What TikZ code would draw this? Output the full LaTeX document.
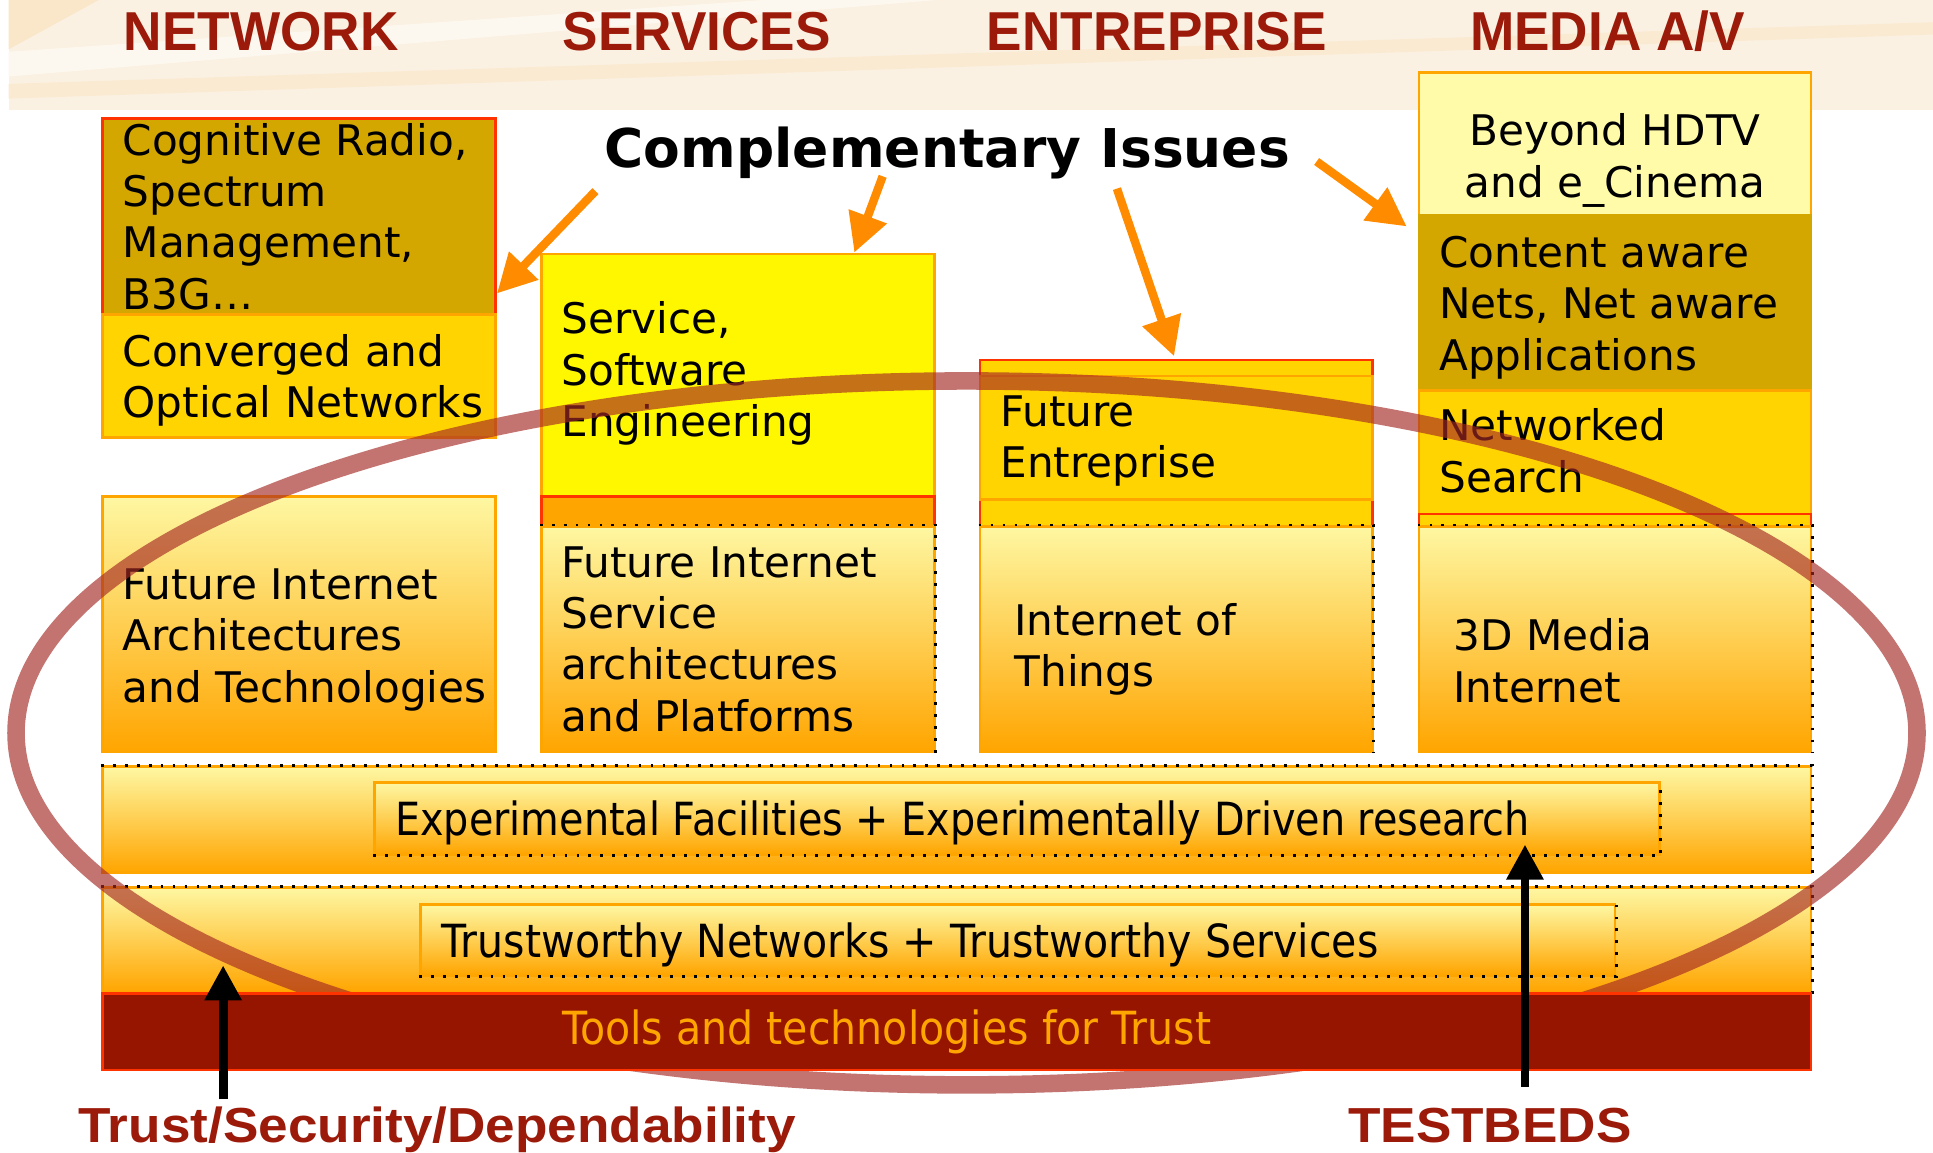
\documentclass[tikz,border=0pt]{standalone}
\usepackage{fontspec}
\setmainfont{DejaVu Sans}
\newfontfamily\boxfont{DejaVu Sans}
\newfontfamily\bandfont[FakeStretch=0.87]{DejaVu Sans}
\newfontfamily\bandfontb[FakeStretch=0.9]{DejaVu Sans}
\newfontfamily\issuefont{DejaVu Sans}
\newfontfamily\headfont[FakeStretch=0.97]{Liberation Sans}
\newfontfamily\footfont[FakeStretch=1.08]{Liberation Sans}
\usetikzlibrary{arrows.meta,positioning,fit}

\definecolor{darkgold}{HTML}{D4A700}
\definecolor{gold}{HTML}{FFD400}
\definecolor{brightyel}{HTML}{FFF700}
\definecolor{paleyel}{HTML}{FFFBA8}
\definecolor{bandor}{HTML}{FFA500}
\definecolor{boxline}{HTML}{FFA500}
\definecolor{redline}{HTML}{FF3300}
\definecolor{toolsred}{HTML}{961500}
\definecolor{headred}{HTML}{9C1A0A}
\definecolor{arrowor}{HTML}{FF8C00}
\definecolor{ellred}{HTML}{A52A24}
\definecolor{gradtop}{HTML}{FEF7A2}
\definecolor{gradmid}{HTML}{FDE090}
\definecolor{bannerbg}{HTML}{FBF1E2}
\definecolor{bannerlt}{HTML}{FDF8EF}
\definecolor{bannerdk}{HTML}{FAE6C8}

\begin{document}
\begin{tikzpicture}[x=0.012328cm,y=-0.012328cm,
		box/.style={inner sep=0pt,draw=boxline,line width=0.8pt},
		grad box/.style={box,top color=gradtop,middle color=gradmid,bottom color=bandor},
		dot line/.style={line width=0.8pt,dash pattern=on 0.8pt off 2.6pt},
		txt/.style={inner sep=0pt,align=left,font=\boxfont\fontsize{12}{14.6}\selectfont},
		band txt/.style={inner sep=0pt,font=\bandfont\fontsize{13}{15}\selectfont},
		head/.style={inner sep=0pt,anchor=base west,text=headred,font=\headfont\bfseries\fontsize{15.6}{18}\selectfont},
		foot/.style={inner sep=0pt,anchor=base west,text=headred,font=\footfont\bfseries\fontsize{14}{17}\selectfont},
		carrow/.style={-{Triangle[length=11pt,width=11pt]},draw=arrowor,fill=arrowor,line width=2.4pt},
		barrow/.style={-{Triangle[length=10pt,width=10pt]},line width=2.5pt}]
		\useasboundingbox (0,0) rectangle (1568,935);
		\fill[white] (0,0) rectangle (1568,935);
		
		% banner
		\fill[bannerbg] (7,0) rectangle (1568,89);
		\fill[bannerdk] (7,0) -- (80,0) -- (7,40) -- cycle;
		\fill[bannerlt] (7,42) -- (620,0) -- (760,0) -- (7,62) -- cycle;
		\fill[bannerdk!60!bannerbg] (7,68) -- (1568,18) -- (1568,28) -- (7,80) -- cycle;
		\node[head] (hnet) at (100,41) {NETWORK};
		\node[head] (hserv) at (456,41) {SERVICES};
		\node[head] (hent) at (800,41) {ENTREPRISE};
		\node[head] (hmedia) at (1192,41) {MEDIA A/V};
		
		% network
		\node[box,fill=darkgold,draw=redline,fit={(83,96) (402,255)}] (cog) {};
		\node[box,fill=gold,fit={(83,255) (402,355)}] (conv) {};
		\node[grad box,fit={(83,403) (402,610)}] (fia) {};
		\node[txt,right=6pt of cog.west] (tcog) {Cognitive Radio,\\Spectrum\\Management,\\B3G\dots};
		\node[txt,right=6pt of conv.west,yshift=-1.25pt] (tconv) {Converged and\\Optical Networks};
		\node[txt,right=6pt of fia.west,yshift=-4.4pt] (tfia) {Future Internet\\Architectures\\and Technologies};
		
		% services
		\node[box,fill=brightyel,fit={(439,206) (758,403)}] (sse) {};
		\node[box,fill=bandor,draw=redline,fit={(439,403) (758,427)}] (sband) {};
		\node[grad box,fit={(439,427) (758,610)}] (fis) {};
		\draw[dot line] (fis.north west) -- (fis.north east) -- (fis.south east);
		\node[txt,right=6pt of sse.west,yshift=0.5pt] (tsse) {Service,\\Software\\Engineering};
		\node[txt,right=6pt of fis.west] (tfis) {Future Internet\\Service\\architectures\\and Platforms};
		
		% entreprise
		\node[box,fill=gold,draw=redline,fit={(795,292) (1113,427)}] (feo) {};
		\node[box,fill=gold,fit={(795,305) (1113,405)}] (fe) {};
		\node[grad box,fit={(795,427) (1113,610)}] (iot) {};
		\draw[dot line] (iot.north west) -- (iot.north east) -- (iot.south east);
		\node[txt,right=6pt of fe.west,yshift=-0.9pt] (tfe) {Future\\Entreprise};
		\node[txt,right=10pt of iot.west,yshift=-2.9pt] (tiot) {Internet of\\Things};
		
		% media
		\node[box,fill=paleyel,fit={(1151,59) (1469,175)}] (hdtv) {};
		\node[box,fill=darkgold,draw=darkgold,fit={(1151,175) (1469,317)}] (cont) {};
		\node[box,fill=gold,fit={(1151,317) (1469,417)}] (nsearch) {};
		\node[box,fill=gold,draw=redline,fit={(1151,417) (1469,427)}] (mband) {};
		\node[grad box,fit={(1151,427) (1469,610)}] (media) {};
		\draw[dot line] (media.north west) -- (media.north east) -- (media.south east);
		\node[txt,align=center,yshift=-4.6pt] (thdtv) at (hdtv.center) {Beyond HDTV\\and e\_Cinema};
		\node[txt,right=6pt of cont.west,yshift=-1.25pt] (tcont) {Content aware\\Nets, Net aware\\Applications};
		\node[txt,right=6pt of nsearch.west,yshift=0.5pt] (tsearch) {Networked\\Search};
		\node[txt,right=10pt of media.west,yshift=-6.15pt] (tmedia) {3D Media\\Internet};
		
		% bands
		\node[grad box,fit={(83,622) (1469,708)}] (expb) {};
		\draw[dot line] (expb.north west) -- (expb.north east) -- (expb.south east);
		\node[grad box,fit={(304,635) (1346,693)}] (expi) {};
		\draw[dot line] (expi.south west) -- (expi.south east) -- (expi.north east);
		\node[band txt,right=6pt of expi.west,yshift=-1.25pt] (texp) {Experimental Facilities + Experimentally Driven research};
		\node[grad box,fit={(83,720) (1469,805)}] (trb) {};
		\draw[dot line] (trb.north west) -- (trb.north east) -- (trb.south east);
		\node[grad box,fit={(341,734) (1310,791)}] (tri) {};
		\draw[dot line] (tri.south west) -- (tri.south east) -- (tri.north east);
		\node[band txt,font=\bandfontb\fontsize{13}{15}\selectfont,right=6.3pt of tri.west,yshift=-1.25pt] (ttrust) {Trustworthy Networks + Trustworthy Services};
		
		% ellipse
		\draw[ellred,opacity=0.65,line width=5pt] (784,594.5) ellipse [x radius=771,y radius=285.5];
		
		\node[box,fill=toolsred,draw=redline,fit={(83,806) (1469,868)}] (tools) {};
		\node[band txt,font=\bandfontb\fontsize{13}{15}\selectfont,text=bandor,right=131pt of tools.west] (ttools) {Tools and technologies for Trust};
		
		% complementary issues
		\node[inner sep=0pt,anchor=base west,font=\issuefont\bfseries\fontsize{15.2}{18}\selectfont] (issues) at (490,136) {Complementary Issues};
		\coordinate (a1) at (483,155);
		\coordinate (a2) at (716,143);
		\coordinate (a3) at (906,153);
		\coordinate (a4) at (1068,131);
		\draw[carrow] (a1) -- (cog.east |- 0,238);
		\draw[carrow] (a2) -- (sse.north -| 693,0);
		\draw[carrow,shorten >=0.7pt] (a3) -- (feo.north -| 953,0);
		\draw[carrow,shorten >=3.8pt] (a4) -- (cont.west |- 0,190);
		
		% trust / testbeds
		\node[foot] (tsd) at (63,927) {Trust/Security/Dependability};
		\node[foot] (tbeds) at (1093,927) {TESTBEDS};
		\coordinate (tsdtip) at (181,783);
		\coordinate (tbtip) at (1237,685);
		\draw[barrow,shorten <=2pt] (tsd.north -| tsdtip) -- (tsdtip);
		\draw[barrow,shorten <=6pt] (tbeds.north -| tbtip) -- (tbtip);
		
\end{tikzpicture}
\end{document}
